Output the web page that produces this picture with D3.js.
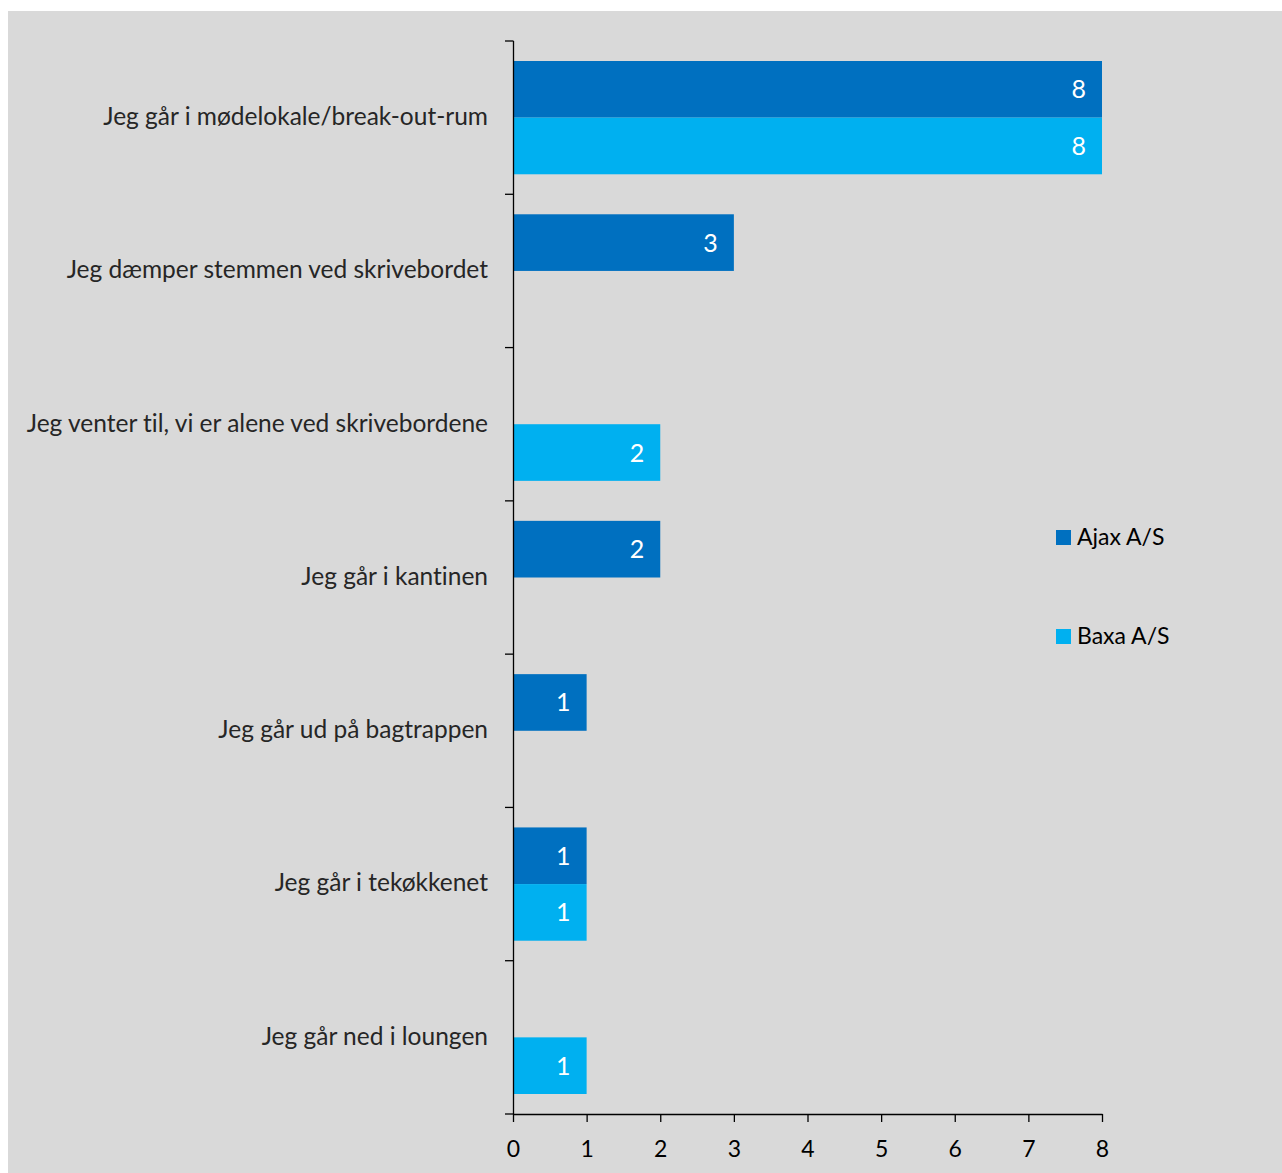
<!DOCTYPE html>
<html>
<head>
<meta charset="utf-8">
<script src="https://cdn.jsdelivr.net/npm/d3@7"></script>
<style>
  body { margin: 0; background: #ffffff; }
  svg text { font-family: Lato, "Open Sans", sans-serif; font-variant-ligatures: none; font-feature-settings: "liga" 0; }
</style>
</head>
<body>
<div class="bar-chart"></div>
<script>
var categories = [
  "Jeg går i mødelokale/break-out-rum",
  "Jeg dæmper stemmen ved skrivebordet",
  "Jeg venter til, vi er alene ved skrivebordene",
  "Jeg går i kantinen",
  "Jeg går ud på bagtrappen",
  "Jeg går i tekøkkenet",
  "Jeg går ned i loungen"
]
var seriesNames = ["Ajax A/S", "Baxa A/S"]
var ajaxValues = [8, 3, null, 2, 1, 1, null]
var baxaValues = [8, null, 2, null, null, 1, 1]
var xTicks = [0, 1, 2, 3, 4, 5, 6, 7, 8]
var colors = ["#0070c0", "#00b0f0"]

var width = 1282, height = 1173
var margin = { top: 41, right: 180, bottom: 59, left: 513 }

var svg = d3.select(".bar-chart")
  .append("svg")
  .attr("width", width)
  .attr("height", height)

svg.append("rect")
  .attr("x", 8).attr("y", 11)
  .attr("width", width - 8).attr("height", height - 11)
  .attr("fill", "#d9d9d9")

var main = svg.append("g")
  .attr("transform", "translate(" + margin.left + "," + margin.top + ")")

var innerW = 1102 - margin.left
var innerH = 1114 - margin.top

var xScale = d3.scaleLinear().domain([0, 8]).range([0, innerW])
var yScale = d3.scaleBand().domain(categories).range([0, innerH]).paddingInner(0).paddingOuter(0)
var subScale = d3.scaleBand().domain(seriesNames).range([20, yScale.bandwidth() - 20])

var rows = categories.map((c, i) => {
  return { cat: c, values: [ajaxValues[i], baxaValues[i]] }
})

rows.forEach((r) => {
  r.values.forEach((v, j) => {
    if (v == null) return
    var y = yScale(r.cat) + subScale(seriesNames[j])
    main.append("rect")
      .attr("x", xScale(0))
      .attr("y", y)
      .attr("width", xScale(v) - xScale(0))
      .attr("height", subScale.bandwidth())
      .attr("fill", colors[j])
    main.append("text")
      .text(v)
      .attr("x", xScale(v) - 16)
      .attr("y", y + subScale.bandwidth() / 2)
      .attr("dy", "0.36em")
      .attr("text-anchor", "end")
      .style("fill", "white")
      .style("font-size", "25px")
  })
})

// y axis: band boundaries as ticks
var yAxisG = main.append("g").attr("class", "y-axis")
yAxisG.append("line")
  .attr("x1", 0.5).attr("x2", 0.5)
  .attr("y1", 0).attr("y2", innerH)
  .attr("stroke", "black").attr("stroke-width", 1.3)
var bounds = categories.map((c) => yScale(c)).concat([innerH])
bounds.forEach((b) => {
  yAxisG.append("line")
    .attr("x1", -8).attr("x2", 0.5)
    .attr("y1", b).attr("y2", b)
    .attr("stroke", "black").attr("stroke-width", 1.3)
})
categories.forEach((c) => {
  yAxisG.append("text")
    .text(c)
    .attr("x", -25)
    .attr("y", yScale(c) + yScale.bandwidth() / 2)
    .attr("dy", "0.3em")
    .attr("text-anchor", "end")
    .style("fill", "#262626")
    .style("font-size", "24.5px")
})

var xAxis = d3.axisBottom(xScale).tickValues(xTicks).tickSize(8).tickSizeOuter(0).tickPadding(19)
var xg = main.append("g")
  .attr("transform", "translate(0," + innerH + ")")
  .call(xAxis)
xg.select(".domain").attr("stroke-width", 1.3)
xg.selectAll(".tick line").attr("stroke-width", 1.3)
xg.selectAll(".tick text")
  .style("font-size", "23px")
  .style("font-family", "Lato, sans-serif")
  .style("fill", "black")

// legend
var legend = svg.append("g")
seriesNames.forEach((s, i) => {
  var ly = 537 + i * 99
  legend.append("rect")
    .attr("x", 1056).attr("y", ly - 7)
    .attr("width", 15).attr("height", 15)
    .attr("fill", colors[i])
  legend.append("text")
    .text(s)
    .attr("x", 1077)
    .attr("y", ly)
    .attr("dy", "0.35em")
    .style("fill", "black")
    .style("font-size", "23px")
})
</script>
</body>
</html>
